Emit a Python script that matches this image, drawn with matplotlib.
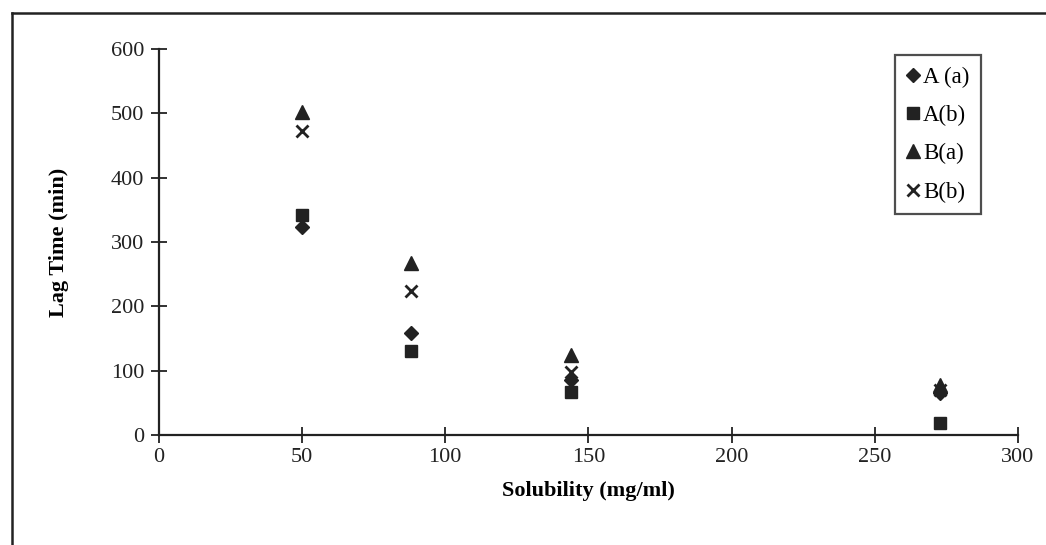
import numpy as np
import matplotlib.pyplot as plt
from matplotlib.lines import Line2D

# solubility (mg/ml) and lag time (min)
solubility = [50, 88, 144, 273]
lag_Aa = [323, 159, 85, 65]
lag_Ab = [342, 131, 67, 19]
lag_Ba = [502, 267, 124, 78]
lag_Bb = [472, 224, 98, 70]

plt.rcParams['font.family'] = ['Liberation Serif', 'DejaVu Serif']

fig = plt.figure(figsize=(10.46, 5.45), dpi=100)
ax = fig.add_axes([0.152, 0.2018, 0.821, 0.708])

ax.plot(solubility, lag_Aa, 'D', color='#222222', ms=7, label='A (a)', clip_on=False)
ax.plot(solubility, lag_Ab, 's', color='#222222', ms=8.5, label='A(b)', clip_on=False)
ax.plot(solubility, lag_Ba, '^', color='#222222', ms=10, label='B(a)', clip_on=False)
ax.plot(solubility, lag_Bb, 'x', color='#222222', ms=9, mew=2, label='B(b)', clip_on=False)

ax.set_xlim(0, 300)
ax.set_ylim(0, 600)
ax.set_xticks(np.arange(0, 301, 50))
ax.set_yticks(np.arange(0, 601, 100))
ax.spines['top'].set_visible(False)
ax.spines['right'].set_visible(False)
for s in ['left', 'bottom']:
    ax.spines[s].set_linewidth(1.6)
    ax.spines[s].set_color('#222222')
ax.tick_params(direction='inout', length=11, width=1.3, labelsize=16, colors='#222222', pad=5)
ax.tick_params(axis='x', pad=4)

ax.set_xlabel('Solubility (mg/ml)', fontsize=16, fontweight='bold', labelpad=10)
ax.set_ylabel('Lag Time (min)', fontsize=16, fontweight='bold', labelpad=30)

leg = ax.legend(loc='upper right', bbox_to_anchor=(0.957, 0.985), fontsize=16.5,
                frameon=True, fancybox=False, edgecolor='#222222', handlelength=0.5,
                handletextpad=0.2, borderpad=0.5, labelspacing=0.75, borderaxespad=0)
leg.get_frame().set_linewidth(1.6)

# outer chart-area frame (top and left edges visible in the scan)
fig.add_artist(Line2D([12 / 1046, 1.0], [1 - 13 / 545, 1 - 13 / 545], color='#222222', lw=1.8))
fig.add_artist(Line2D([12 / 1046, 12 / 1046], [0, 1 - 13 / 545], color='#222222', lw=1.8))

fig.savefig('out.png', dpi=100)
